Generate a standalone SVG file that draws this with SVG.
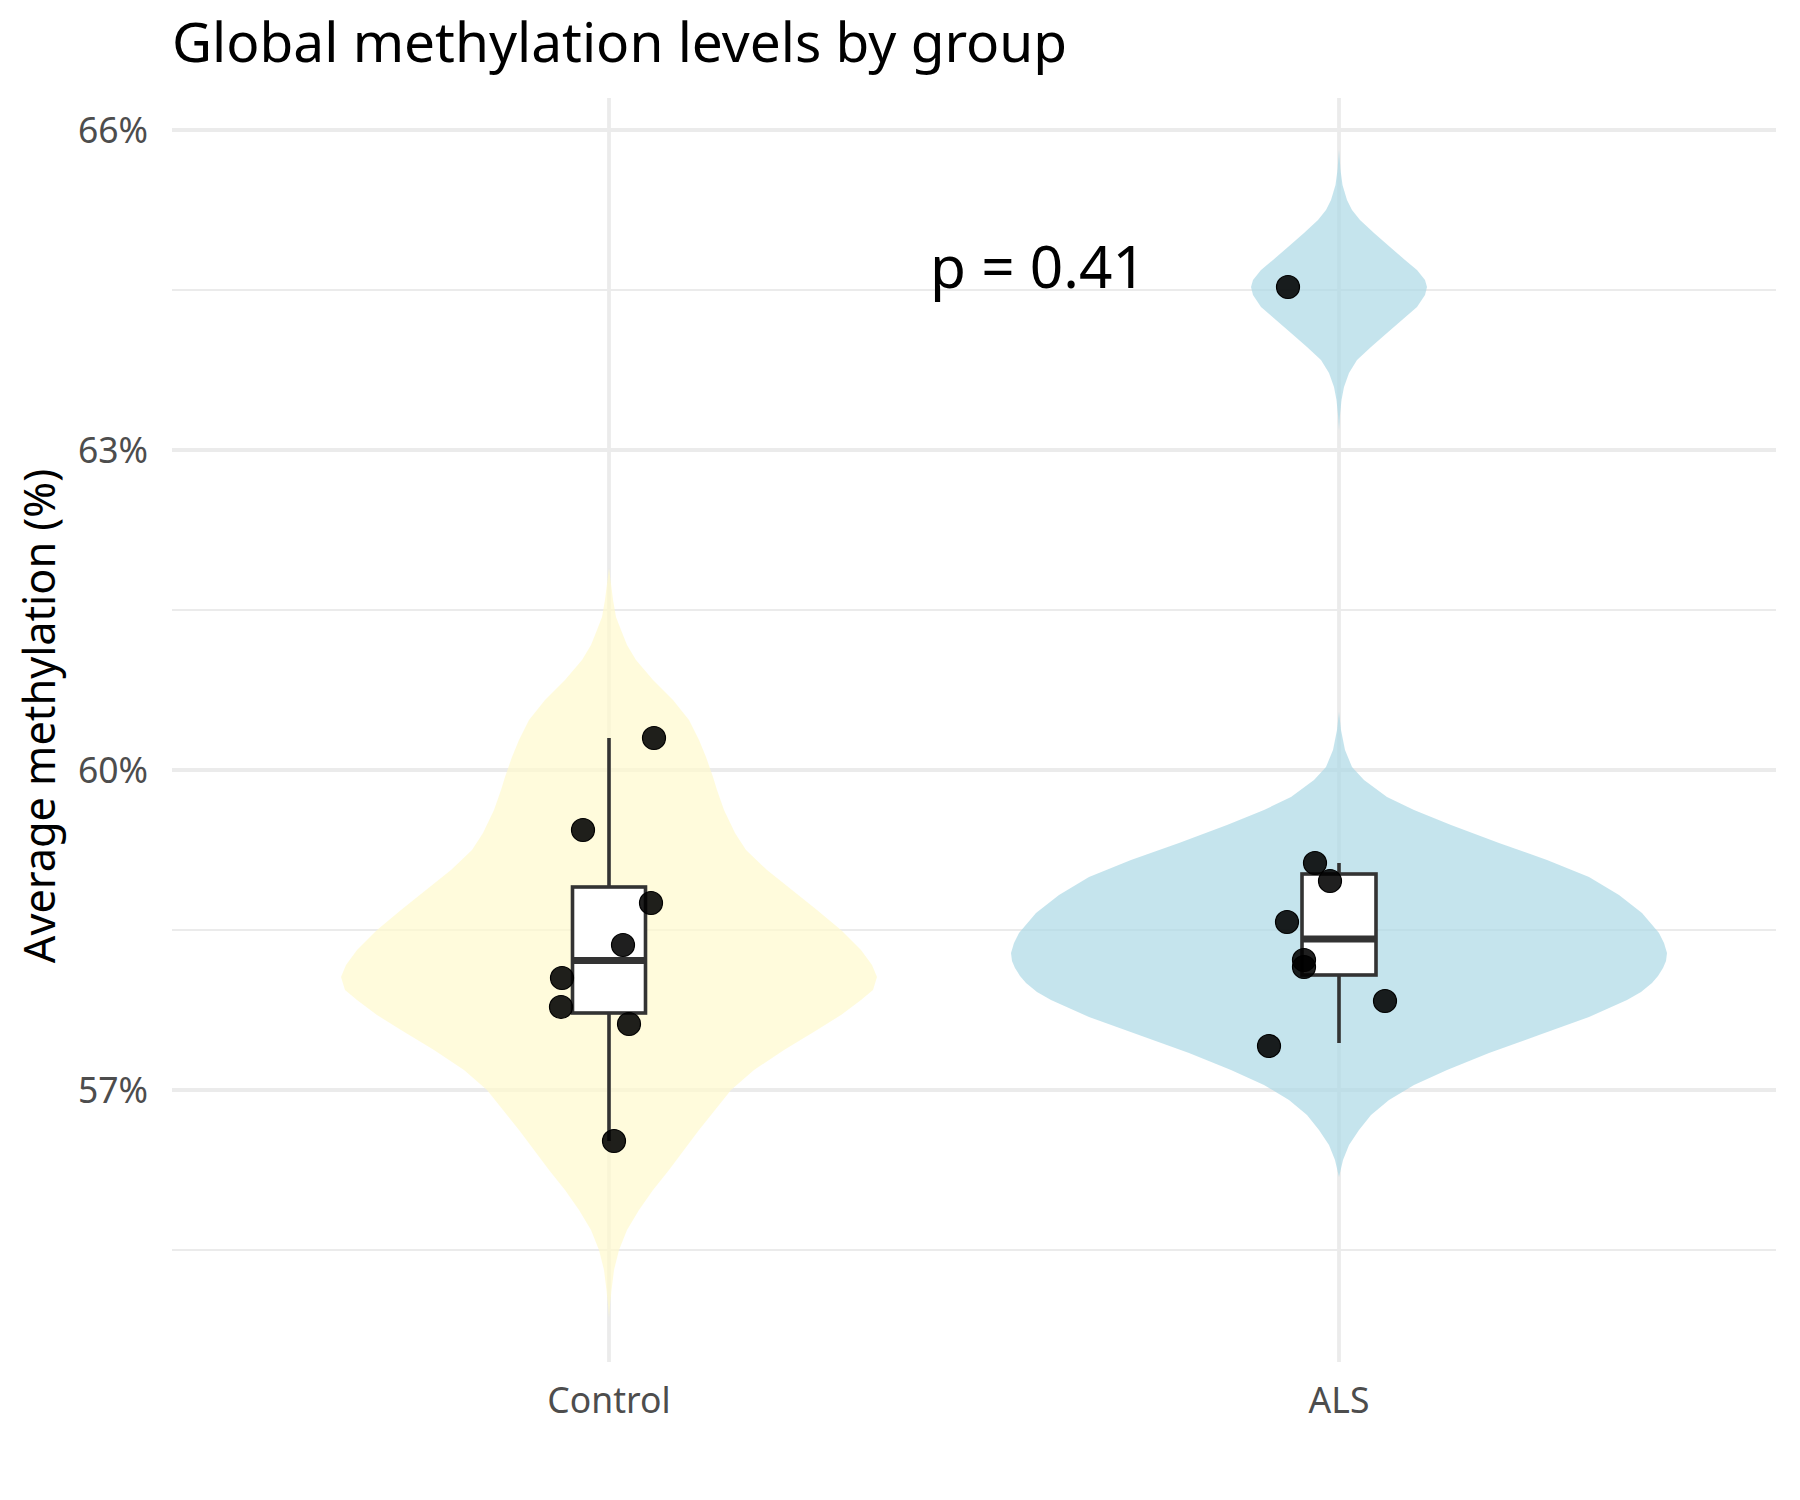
<svg xmlns="http://www.w3.org/2000/svg" width="1800" height="1500" viewBox="0 0 1800 1500">
<style>
.major{stroke:#ebebeb;stroke-width:3.8;fill:none}
.minor{stroke:#ebebeb;stroke-width:2;fill:none}
.tick{font-family:"Noto Sans","Open Sans",sans-serif;font-size:35.5px;fill:#4d4d4d}
.title{font-family:"Noto Sans","Open Sans",sans-serif;font-size:55px;fill:#000}
.axtitle{font-family:"Noto Sans","Open Sans",sans-serif;font-size:43.2px;fill:#000}
.ann{font-family:"Noto Sans","Open Sans",sans-serif;font-size:58.5px;fill:#000}
.vctl{fill:#FFFACD;fill-opacity:0.7;stroke:none}
.vals{fill:#ADD8E6;fill-opacity:0.7;stroke:none}
.box{fill:#ffffff;stroke:#333333;stroke-width:3.6}
.med{stroke:#333333;stroke-width:7.2}
.wh{stroke:#333333;stroke-width:3.6}
.pt{fill:#000;fill-opacity:0.88;stroke:#000;stroke-width:1.2}
</style>
<rect width="1800" height="1500" fill="#ffffff"/>
<g id="grid">
<line class="minor" x1="172" y1="290" x2="1776" y2="290"/>
<line class="minor" x1="172" y1="610" x2="1776" y2="610"/>
<line class="minor" x1="172" y1="930" x2="1776" y2="930"/>
<line class="minor" x1="172" y1="1250" x2="1776" y2="1250"/>
<line class="major" x1="172" y1="130" x2="1776" y2="130"/>
<line class="major" x1="172" y1="450" x2="1776" y2="450"/>
<line class="major" x1="172" y1="770" x2="1776" y2="770"/>
<line class="major" x1="172" y1="1090" x2="1776" y2="1090"/>
<line class="major" x1="609" y1="98" x2="609" y2="1362"/>
<line class="major" x1="1339" y1="98" x2="1339" y2="1362"/>
</g>
<g id="violin-control">
<path class="vctl" d="M609,568 L610.5,580 L613,600 L616,617 L621,630 L627,645 L636,660 L653,680 L673,700 L689,720 L699,740 L706,757 L713,777 L717,790 L724,810 L735,833 L746,850 L767,870 L792,890 L817,910 L841,930 L861,950 L872,965 L877,977 L873,990 L861,1000 L841,1015 L817,1030 L784,1050 L754,1070 L731,1090 L715,1110 L699,1130 L684,1150 L669,1170 L653,1190 L639,1210 L627,1230 L619,1250 L614,1270 L611.5,1290 L610,1305 L609,1318 L608,1305 L606.5,1290 L604,1270 L599,1250 L591,1230 L579,1210 L565,1190 L549,1170 L534,1150 L519,1130 L503,1110 L487,1090 L464,1070 L434,1050 L401,1030 L377,1015 L357,1000 L345,990 L341,977 L346,965 L357,950 L377,930 L401,910 L426,890 L451,870 L472,850 L483,833 L494,810 L501,790 L505,777 L512,757 L519,740 L529,720 L545,700 L565,680 L582,660 L591,645 L597,630 L602,617 L605,600 L607.5,580 Z"/>
</g>
<g id="violin-als">
<path class="vals" d="M1339,712 L1341,730 L1345,750 L1352,767 L1364,780 L1387,797 L1414,810 L1451,825 L1499,843 L1547,860 L1589,877 L1619,895 L1642,913 L1659,933 L1664,943 L1667,953 L1666,961 L1663,968 L1658,976 L1652,983 L1641,992 L1627,1000 L1589,1017 L1539,1035 L1489,1053 L1447,1070 L1414,1085 L1389,1100 L1371,1115 L1359,1130 L1349,1145 L1343,1160 L1339,1177 L1335,1160 L1329,1145 L1319,1130 L1307,1115 L1289,1100 L1264,1085 L1231,1070 L1189,1053 L1139,1035 L1089,1017 L1051,1000 L1037,992 L1026,983 L1020,976 L1015,968 L1012,961 L1011,953 L1014,943 L1019,933 L1036,913 L1059,895 L1089,877 L1131,860 L1179,843 L1227,825 L1264,810 L1291,797 L1314,780 L1326,767 L1333,750 L1337,730 Z"/>
<path class="vals" d="M1339,150 L1340.5,170 L1342.5,185 L1347,200 L1352,210 L1360,220 L1374,233 L1390,247 L1405,260 L1417,270 L1425,280 L1427,287 L1425,295 L1417,307 L1402,320 L1387,333 L1371,347 L1357,360 L1349,373 L1344,387 L1341.5,400 L1340,415 L1339,430 L1338,415 L1336.5,400 L1334,387 L1329,373 L1321,360 L1307,347 L1291,333 L1276,320 L1261,307 L1253,295 L1251,287 L1253,280 L1261,270 L1273,260 L1288,247 L1304,233 L1318,220 L1326,210 L1331,200 L1335.5,185 L1337.5,170 Z"/>
</g>
<g id="box-control">
<line class="wh" x1="609" y1="738" x2="609" y2="887"/>
<line class="wh" x1="609" y1="1013" x2="609" y2="1141"/>
<rect class="box" x="572.5" y="887" width="73" height="126"/>
<line class="med" x1="572.5" y1="960.5" x2="645.5" y2="960.5"/>
</g>
<g id="box-als">
<line class="wh" x1="1339" y1="863" x2="1339" y2="874"/>
<line class="wh" x1="1339" y1="975" x2="1339" y2="1043"/>
<rect class="box" x="1302" y="874" width="74" height="101"/>
<line class="med" x1="1302" y1="939" x2="1376" y2="939"/>
</g>
<g id="points-control">
<circle class="pt" cx="654" cy="738" r="11.5"/>
<circle class="pt" cx="583" cy="830" r="11.5"/>
<circle class="pt" cx="651" cy="903" r="11.5"/>
<circle class="pt" cx="623" cy="945" r="11.5"/>
<circle class="pt" cx="562" cy="978" r="11.5"/>
<circle class="pt" cx="561" cy="1007" r="11.5"/>
<circle class="pt" cx="629" cy="1024" r="11.5"/>
<circle class="pt" cx="614" cy="1141" r="11.5"/>
</g>
<g id="points-als">
<circle class="pt" cx="1288" cy="287" r="11.5"/>
<circle class="pt" cx="1315" cy="863" r="11.5"/>
<circle class="pt" cx="1330" cy="881" r="11.5"/>
<circle class="pt" cx="1287" cy="922" r="11.5"/>
<circle class="pt" cx="1304" cy="960" r="11.5"/>
<circle class="pt" cx="1304" cy="967" r="11.5"/>
<circle class="pt" cx="1385" cy="1001" r="11.5"/>
<circle class="pt" cx="1269" cy="1046" r="11.5"/>
</g>
<g id="y-axis">
<text class="tick" x="148" y="142.5" text-anchor="end">66%</text>
<text class="tick" x="148" y="462.5" text-anchor="end">63%</text>
<text class="tick" x="148" y="782.5" text-anchor="end">60%</text>
<text class="tick" x="148" y="1102.5" text-anchor="end">57%</text>
<text class="axtitle" transform="translate(55,716) rotate(-90)" text-anchor="middle">Average methylation (%)</text>
</g>
<g id="x-axis">
<text class="tick" x="609" y="1413" text-anchor="middle">Control</text>
<text class="tick" x="1339" y="1413" text-anchor="middle">ALS</text>
</g>
<text class="title" x="172" y="62">Global methylation levels by group</text>
<text class="ann" x="930" y="288">p = 0.41</text>
</svg>
